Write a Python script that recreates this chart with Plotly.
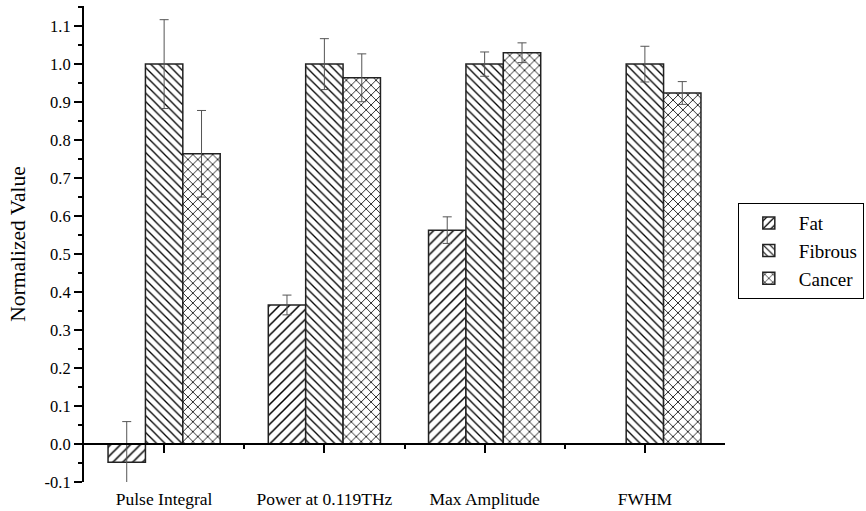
import plotly.graph_objects as go

categories = ["Pulse Integral", "Power at 0.119THz", "Max Amplitude", "FWHM"]
fat = [-0.048, 0.366, 0.563, None]
fat_err = [0.107, 0.026, 0.035, None]
fibrous = [1.0, 1.0, 1.0, 1.0]
fibrous_err = [0.117, 0.067, 0.032, 0.047]
cancer = [0.764, 0.964, 1.030, 0.924]
cancer_err = [0.114, 0.063, 0.026, 0.030]
y_ticks = [-0.1, 0.0, 0.1, 0.2, 0.3, 0.4, 0.5, 0.6, 0.7, 0.8, 0.9, 1.0, 1.1]

FONT = "Liberation Serif, Times New Roman, serif"

def bar(name, y, err, shape, size):
    return go.Bar(
        name=name, x=categories, y=y,
        marker=dict(color="white",
                    line=dict(color="#222", width=1.5),
                    pattern=dict(shape=shape, fgcolor="black", bgcolor="white",
                                 fgopacity=1, size=size, solidity=0.22,
                                 fillmode="overlay")),
        error_y=dict(type="data", array=err, visible=True, color="#555",
                     thickness=1, width=4.5),
    )

fig = go.Figure()
fig.add_trace(bar("Fat", fat, fat_err, "/", 7))
fig.add_trace(bar("Fibrous", fibrous, fibrous_err, "\\", 6))
fig.add_trace(bar("Cancer", cancer, cancer_err, "x", 7))
# empty trace to activate the zero-line axis
fig.add_trace(go.Scatter(x=[], y=[], xaxis="x2", showlegend=False, hoverinfo="skip"))

ymin, ymax = -0.1, 1.153
fig.update_layout(
    width=866, height=511,
    margin=dict(l=84, r=141, t=6, b=29, autoexpand=False),
    paper_bgcolor="white", plot_bgcolor="white",
    barmode="group", bargap=0.3, bargroupgap=0,
    font=dict(family=FONT, size=16, color="black"),
    xaxis=dict(type="category", range=[-0.5, 3.5], showline=False, ticks="",
               showgrid=False, zeroline=False, ticklabelstandoff=4,
               automargin=False,
               tickfont=dict(family=FONT, size=17.5, color="black")),
    xaxis2=dict(type="linear", overlaying="x", anchor="free",
                position=(0 - ymin) / (ymax - ymin), range=[-0.5, 3.5],
                showline=True, linecolor="black", linewidth=2,
                ticks="outside", ticklen=8, tickwidth=1.5, tickcolor="black",
                tickvals=[0, 1, 2, 3], showticklabels=False, showgrid=False,
                zeroline=False, automargin=False,
                minor=dict(tickvals=[0.5, 1.5, 2.5], ticks="outside", ticklen=4,
                           tickwidth=1.5, tickcolor="black")),
    yaxis=dict(range=[ymin, ymax], showline=True, linecolor="black", linewidth=2,
               ticks="outside", ticklen=8, tickwidth=1.5, tickcolor="black",
               tickmode="array", tickvals=y_ticks,
               ticktext=[f"{v:.1f}" for v in y_ticks],
               showgrid=False, zeroline=False, automargin=False,
               minor=dict(dtick=0.05, tick0=0, ticks="outside", ticklen=4,
                          tickwidth=1.5, tickcolor="black"),
               title=dict(text="Normalized Value",
                          font=dict(family=FONT, size=21.5, color="black"),
                          standoff=13),
               tickfont=dict(family=FONT, size=16.5, color="black")),
    legend=dict(x=1.02, y=0.586, xanchor="left", yanchor="top",
                bordercolor="black", borderwidth=1, bgcolor="white",
                font=dict(family=FONT, size=19, color="black"),
                tracegroupgap=0, itemwidth=50),
)

fig.write_html("out.html")
